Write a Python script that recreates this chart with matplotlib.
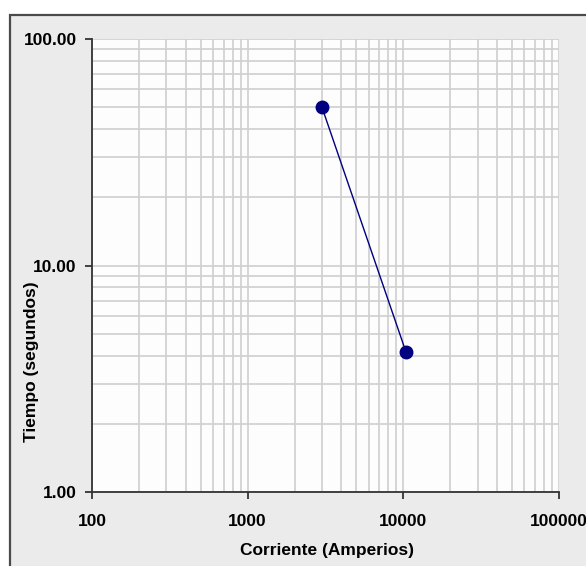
import matplotlib
matplotlib.use('Agg')
import matplotlib.pyplot as plt
from matplotlib.patches import Rectangle

# datos
corriente = [3000, 10400]
tiempo = [50.0, 4.15]
x_ticks = [100, 1000, 10000, 100000]
x_labels = ['100', '1000', '10000', '100000']
y_ticks = [1, 10, 100]
y_labels = ['1.00', '10.00', '100.00']

plt.rcParams['font.family'] = ['Liberation Sans', 'DejaVu Sans']
plt.rcParams['font.weight'] = 'bold'

W, H = 586, 566
fig = plt.figure(figsize=(W / 100, H / 100), dpi=100)
fig.patch.set_facecolor('white')

# marco gris del area del grafico
fig.patches.append(Rectangle((10 / W, -0.1), 1.2, 1.1 - 15 / H, transform=fig.transFigure,
                             facecolor='#ebebeb', edgecolor='#4a4a4a', lw=1.6, zorder=-1))

ax = fig.add_axes([92 / W, 1 - 492 / H, (559 - 92) / W, (492 - 39) / H])
ax.set_facecolor('#fdfdfd')
ax.set_xscale('log')
ax.set_yscale('log')
ax.set_xlim(100, 100000)
ax.set_ylim(1, 100)

ax.grid(True, which='both', color='#cfcfcf', lw=1.2)
ax.set_axisbelow(True)

ax.plot(corriente, tiempo, color='#000080', lw=1.0, marker='o', ms=9,
        markerfacecolor='#000080', markeredgecolor='#000080', zorder=3)

for s in ['top', 'right']:
    ax.spines[s].set_visible(False)
for s in ['left', 'bottom']:
    ax.spines[s].set_color('#333333')
    ax.spines[s].set_linewidth(1.3)

ax.set_xticks(x_ticks)
ax.set_xticklabels(x_labels)
ax.set_yticks(y_ticks)
ax.set_yticklabels(y_labels)
ax.tick_params(which='major', direction='out', length=5, width=1.3, color='#333333',
               labelsize=12.5)
ax.tick_params(axis='x', pad=11)
ax.tick_params(axis='y', pad=6)
ax.tick_params(which='minor', length=0)
for lab in ax.get_xticklabels() + ax.get_yticklabels():
    lab.set_fontweight('bold')

fig.text(327 / W, 1 - 551 / H, 'Corriente (Amperios)', ha='center', va='center',
         fontsize=12.5, fontweight='bold')
fig.text(32 / W, 1 - 362 / H, 'Tiempo (segundos)', ha='center', va='center',
         rotation=90, fontsize=12.5, fontweight='bold')

fig.savefig('out.png', dpi=100)
